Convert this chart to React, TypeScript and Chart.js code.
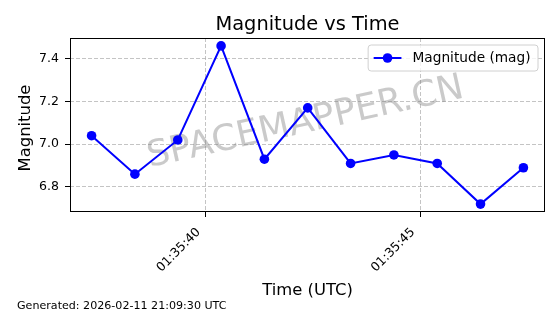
import React, { useEffect, useRef } from "react";
import { Chart, registerables } from "chart.js";

Chart.register(...registerables);

const times = [
  "01:35:37.34", "01:35:38.35", "01:35:39.35", "01:35:40.36", "01:35:41.37",
  "01:35:42.38", "01:35:43.38", "01:35:44.39", "01:35:45.40", "01:35:46.41", "01:35:47.41",
];
const magnitudes = [7.04, 6.86, 7.02, 7.46, 6.93, 7.17, 6.91, 6.95, 6.91, 6.72, 6.89];
const xTickLabels = ["01:35:40", "01:35:45"];
const yTickValues = [6.8, 7.0, 7.2, 7.4];

const titleText = "Magnitude vs Time";
const xLabel = "Time (UTC)";
const yLabel = "Magnitude";
const seriesLabel = "Magnitude (mag)";
const watermark = "SPACEMAPPER.CN";
const footer = "Generated: 2026-02-11 21:09:30 UTC";

const FONT = "'DejaVu Sans', sans-serif";

function toSec(s: string): number {
  const [h, m, sec] = s.split(":");
  return parseInt(h, 10) * 3600 + parseInt(m, 10) * 60 + parseFloat(sec);
}
function fmt(v: number): string {
  const t = Math.round(v);
  const h = Math.floor(t / 3600);
  const m = Math.floor((t % 3600) / 60);
  const s = t % 60;
  const p = (n: number) => String(n).padStart(2, "0");
  return `${p(h)}:${p(m)}:${p(s)}`;
}

export default function App() {
  const ref = useRef<HTMLCanvasElement | null>(null);

  useEffect(() => {
    const canvas = ref.current;
    if (!canvas) return;
    const xs = times.map(toSec);
    const xMinD = Math.min(...xs), xMaxD = Math.max(...xs);
    const yMinD = Math.min(...magnitudes), yMaxD = Math.max(...magnitudes);
    const xr = xMaxD - xMinD, yr = yMaxD - yMinD;
    const data = xs.map((x, i) => ({ x, y: magnitudes[i] }));

    const deco = {
      id: "deco",
      beforeDatasetsDraw(chart: any) {
        const { ctx, chartArea: a } = chart;
        ctx.save();
        ctx.beginPath();
        ctx.rect(a.left, a.top, a.right - a.left, a.bottom - a.top);
        ctx.clip();
        ctx.translate((a.left + a.right) / 2 - 2, (a.top + a.bottom) / 2 - 2);
        ctx.rotate((-12.5 * Math.PI) / 180);
        ctx.font = `36px ${FONT}`;
        ctx.fillStyle = "rgba(128,128,128,0.42)";
        ctx.textAlign = "center";
        ctx.textBaseline = "middle";
        ctx.fillText(watermark, 0, 0);
        ctx.restore();
      },
      afterDraw(chart: any) {
        const { ctx, chartArea: a } = chart;
        ctx.save();
        // frame
        ctx.strokeStyle = "#000";
        ctx.lineWidth = 1;
        ctx.strokeRect(Math.round(a.left) + 0.5, Math.round(a.top) + 0.5, Math.round(a.right - a.left) - 1, Math.round(a.bottom - a.top) - 1);
        const cx = (a.left + a.right) / 2;
        const cy = (a.top + a.bottom) / 2;
        ctx.fillStyle = "#000";
        // title
        ctx.font = `19.4px ${FONT}`;
        ctx.textAlign = "center";
        ctx.textBaseline = "alphabetic";
        ctx.fillText(titleText, cx, 30);
        // x label
        ctx.font = `16.4px ${FONT}`;
        ctx.fillText(xLabel, cx, 295);
        // y label
        ctx.save();
        ctx.translate(30, cy + 3);
        ctx.rotate(-Math.PI / 2);
        ctx.fillText(yLabel, 0, 0);
        ctx.restore();
        // footer
        ctx.font = `11.1px ${FONT}`;
        ctx.textAlign = "left";
        ctx.fillText(footer, 17, 309);
        // legend
        ctx.font = `13.7px ${FONT}`;
        const tw = ctx.measureText(seriesLabel).width;
        const right = a.right - 7;
        const top = a.top + 7;
        const h = 26;
        const w = 5.5 + 27.8 + 11.1 + tw + 7.5;
        const left = right - w;
        const r = 3;
        ctx.beginPath();
        ctx.moveTo(left + r, top);
        ctx.lineTo(right - r, top);
        ctx.arcTo(right, top, right, top + r, r);
        ctx.lineTo(right, top + h - r);
        ctx.arcTo(right, top + h, right - r, top + h, r);
        ctx.lineTo(left + r, top + h);
        ctx.arcTo(left, top + h, left, top + h - r, r);
        ctx.lineTo(left, top + r);
        ctx.arcTo(left, top, left + r, top, r);
        ctx.closePath();
        ctx.fillStyle = "rgba(255,255,255,0.8)";
        ctx.fill();
        ctx.strokeStyle = "#d0d0d0";
        ctx.lineWidth = 1;
        ctx.stroke();
        const ly = top + h / 2;
        const l0 = left + 5.5;
        ctx.strokeStyle = "#0000ff";
        ctx.lineWidth = 2;
        ctx.beginPath();
        ctx.moveTo(l0, ly);
        ctx.lineTo(l0 + 27.8, ly);
        ctx.stroke();
        ctx.fillStyle = "#0000ff";
        ctx.beginPath();
        ctx.arc(l0 + 13.9, ly, 4.8, 0, Math.PI * 2);
        ctx.fill();
        ctx.fillStyle = "#000";
        ctx.textBaseline = "middle";
        ctx.fillText(seriesLabel, l0 + 27.8 + 11.1, ly + 0.5);
        ctx.restore();
      },
    };

    const gridOpts = {
      color: "rgba(176,176,176,0.75)",
      lineWidth: 1,
      tickLength: 5,
      tickColor: "#000",
      tickWidth: 1,
    };

    const chart = new Chart(canvas, {
      type: "line",
      data: {
        datasets: [
          {
            label: seriesLabel,
            data,
            borderColor: "#0000ff",
            backgroundColor: "#0000ff",
            borderWidth: 2,
            pointRadius: 4.8,
            pointBorderWidth: 0,
            pointBackgroundColor: "#0000ff",
            tension: 0,
          },
        ],
      },
      options: {
        animation: false,
        responsive: false,
        events: [],
        layout: { padding: { left: 0, right: 15, top: 38, bottom: 0 } },
        plugins: { legend: { display: false }, title: { display: false }, tooltip: { enabled: false } },
        scales: {
          x: {
            type: "linear",
            min: xMinD - 0.05 * xr,
            max: xMaxD + 0.05 * xr,
            afterBuildTicks: (s: any) => {
              s.ticks = xTickLabels.map((t) => ({ value: toSec(t) }));
            },
            afterFit: (s: any) => {
              s.height = 102;
            },
            ticks: {
              autoSkip: false,
              minRotation: 45,
              maxRotation: 45,
              padding: 8,
              labelOffset: -7,
              color: "#000",
              font: { family: FONT, size: 12.5 },
              callback: (v: any) => fmt(Number(v)),
            },
            grid: gridOpts,
            border: { display: false, color: "#000", width: 1, dash: [4, 2] },
          },
          y: {
            type: "linear",
            min: yMinD - 0.05 * yr,
            max: yMaxD + 0.05 * yr,
            afterBuildTicks: (s: any) => {
              s.ticks = yTickValues.map((v) => ({ value: v }));
            },
            afterFit: (s: any) => {
              s.width = 70;
            },
            ticks: {
              autoSkip: false,
              padding: 6,
              color: "#000",
              font: { family: FONT, size: 12.5 },
              callback: (v: any) => Number(v).toFixed(1),
            },
            grid: gridOpts,
            border: { display: false, color: "#000", width: 1, dash: [4, 2] },
          },
        },
      },
      plugins: [deco],
    } as any);
    return () => chart.destroy();
  }, []);

  return (
    <div style={{ position: "fixed", left: 0, top: 0, width: 560, height: 314, background: "#fff" }}>
      <canvas ref={ref} width={560} height={314} style={{ width: 560, height: 314, display: "block" }} />
    </div>
  );
}
